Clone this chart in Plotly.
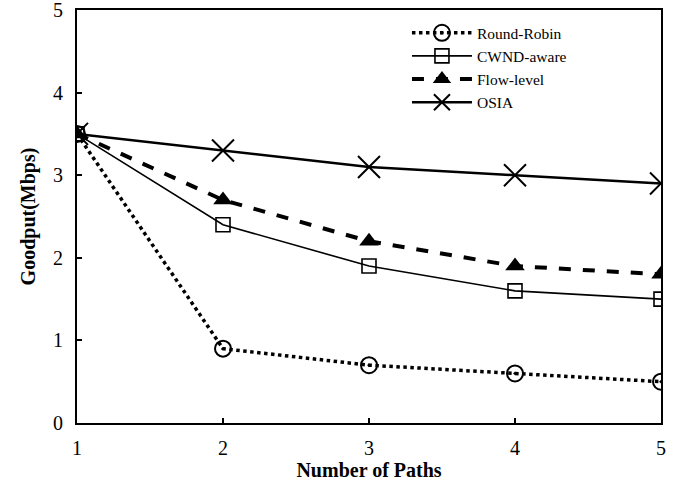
import plotly.graph_objects as go

paths = [1, 2, 3, 4, 5]
round_robin = [3.5, 0.9, 0.7, 0.6, 0.5]
cwnd_aware = [3.5, 2.4, 1.9, 1.6, 1.5]
flow_level = [3.5, 2.7, 2.2, 1.9, 1.8]
osia = [3.5, 3.3, 3.1, 3.0, 2.9]

serif = "Liberation Serif"

fig = go.Figure()
fig.add_trace(go.Scatter(
    x=paths, y=round_robin, name="Round-Robin", mode="lines+markers",
    line=dict(color="black", width=3.5, dash="dot"),
    marker=dict(symbol="circle-open-dot", size=16, color="black", line=dict(width=2, color="black")),
))
fig.add_trace(go.Scatter(
    x=paths, y=cwnd_aware, name="CWND-aware", mode="lines+markers",
    line=dict(color="black", width=1.6),
    marker=dict(symbol="square-open", size=14, color="black", line=dict(width=1.6, color="black")),
))
fig.add_trace(go.Scatter(
    x=paths, y=flow_level, name="Flow-level", mode="lines+markers",
    line=dict(color="black", width=4, dash="dash"),
    marker=dict(symbol="triangle-up", size=17, color="black"),
))
fig.add_trace(go.Scatter(
    x=paths, y=osia, name="OSIA", mode="lines+markers",
    line=dict(color="black", width=2.5),
    marker=dict(symbol="x-thin-open", size=22, color="black", line=dict(width=2, color="black")),
))

axis_common = dict(
    showline=True, linecolor="black", linewidth=2, mirror=True,
    ticks="inside", ticklen=5, tickwidth=2, tickcolor="black",
    showgrid=False, zeroline=False, automargin=False,
    ticklabeloverflow="allow",
    tickfont=dict(family=serif, size=20, color="black"),
)

fig.update_xaxes(
    range=[1, 5], tickvals=[1, 2, 3, 4, 5], ticktext=["1", "2", "3", "4", "5"],
    ticklabelstandoff=6,
    title=dict(text="<b>Number of Paths</b>", font=dict(family=serif, size=20, color="black"), standoff=3),
    **axis_common,
)
fig.update_yaxes(
    range=[0, 5], tickvals=[0, 1, 2, 3, 4, 5], ticktext=["0", "1", "2", "3", "4", "5"],
    ticklabelstandoff=8,
    title=dict(text="<b>Goodput(Mbps)</b>", font=dict(family=serif, size=20, color="black"), standoff=12),
    **axis_common,
)

fig.update_layout(
    width=691, height=489,
    margin=dict(l=77, r=30, t=10, b=66),
    paper_bgcolor="white", plot_bgcolor="white",
    showlegend=True,
    legend=dict(
        x=0.565, y=0.985, xanchor="left", yanchor="top",
        font=dict(family=serif, size=15.5, color="black"),
        bgcolor="rgba(0,0,0,0)", borderwidth=0,
        itemwidth=60, tracegroupgap=0,
    ),
)

fig.write_html("out.html")
